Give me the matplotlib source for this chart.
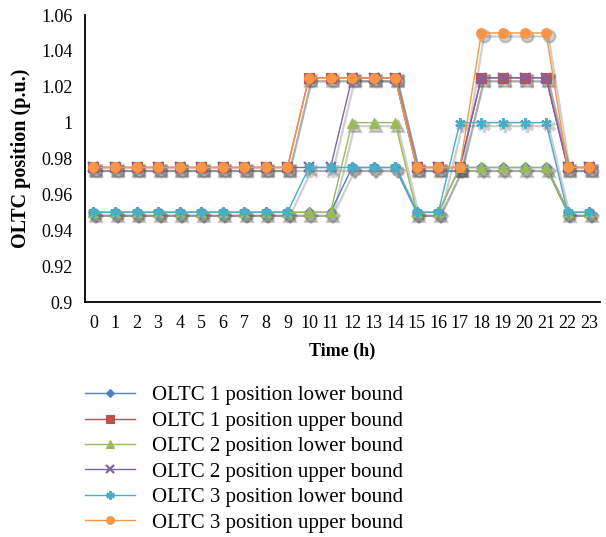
import matplotlib.pyplot as plt
import matplotlib.transforms as mtransforms

hours = list(range(24))

oltc1_low = [0.95]*12 + [0.975]*3 + [0.95]*2 + [0.975]*5 + [0.95]*2
oltc1_up = [0.975]*10 + [1.025]*5 + [0.975]*3 + [1.025]*4 + [0.975]*2
oltc2_low = [0.95]*12 + [1.0]*3 + [0.95]*2 + [0.975]*5 + [0.95]*2
oltc2_up = [0.975]*12 + [1.025]*3 + [0.975]*3 + [1.025]*4 + [0.975]*2
oltc3_low = [0.95]*10 + [0.975]*5 + [0.95]*2 + [1.0]*5 + [0.95]*2
oltc3_up = [0.975]*10 + [1.025]*5 + [0.975]*3 + [1.05]*4 + [0.975]*2

series = [
    ('OLTC 1 position lower bound', oltc1_low, '#4F81BD', 'D', 5.5),
    ('OLTC 1 position upper bound', oltc1_up, '#C0504D', 's', 6.5),
    ('OLTC 2 position lower bound', oltc2_low, '#9BBB59', '^', 7),
    ('OLTC 2 position upper bound', oltc2_up, '#8064A2', 'x', 6.5),
    ('OLTC 3 position lower bound', oltc3_low, '#4BACC6', (6, 2, 0), 7.5),
    ('OLTC 3 position upper bound', oltc3_up, '#F79646', 'o', 7),
]

yticks = [0.9, 0.92, 0.94, 0.96, 0.98, 1.0, 1.02, 1.04, 1.06]
ytick_labels = ['0.9', '0.92', '0.94', '0.96', '0.98', '1', '1.02', '1.04', '1.06']

plt.rcParams['font.family'] = ['Liberation Serif', 'DejaVu Serif']

fig = plt.figure(figsize=(6.06, 5.37), dpi=100)
ax = fig.add_axes([0.140, 0.4376, 0.850, 0.5344])

# soft drop shadow like the office chart
shadow_tr = mtransforms.offset_copy(ax.transData, fig=fig, x=2.5, y=-3.5, units='dots')

for name, vals, col, mk, ms in series:
    mew = 1.6 if mk in ('x', (6, 2, 0)) else 0.8
    ax.plot(hours, vals, color='#555555', alpha=0.28, linewidth=1.6, marker=mk,
            markersize=ms + 1.5, markeredgewidth=mew + 0.8, markeredgecolor='#555555',
            transform=shadow_tr, zorder=1)

handles = []
for name, vals, col, mk, ms in series:
    mew = 1.6 if mk in ('x', (6, 2, 0)) else 0.8
    ln, = ax.plot(hours, vals, color=col, linewidth=1.0, marker=mk, markersize=ms,
                  markeredgewidth=mew, markeredgecolor=col, label=name, zorder=3)
    handles.append(ln)

ax.set_xlim(-0.4, 23.5)
ax.set_ylim(0.9, 1.06)
ax.set_xticks(hours)
ax.set_xticklabels([str(h) for h in hours], fontsize=13)
ax.set_yticks(yticks)
ax.set_yticklabels(ytick_labels, fontsize=13)
ax.tick_params(length=0, pad=9)
ax.tick_params(axis='x', pad=9)

for s in ['top', 'right']:
    ax.spines[s].set_visible(False)
ax.spines['left'].set_linewidth(1.3)
ax.spines['bottom'].set_linewidth(1.3)

ax.set_xlabel('Time (h)', fontsize=13, fontweight='bold', labelpad=8)
ax.set_ylabel('OLTC position (p.u.)', fontsize=14.5, fontweight='bold', labelpad=7)

fig.legend(handles, [s[0] for s in series], loc='upper left',
           bbox_to_anchor=(0.127, 0.297), frameon=False, fontsize=15,
           handlelength=2.4, handletextpad=0.8, labelspacing=0.28,
           numpoints=1, borderaxespad=0, markerscale=0.8)

fig.savefig('out.png', dpi=100)
